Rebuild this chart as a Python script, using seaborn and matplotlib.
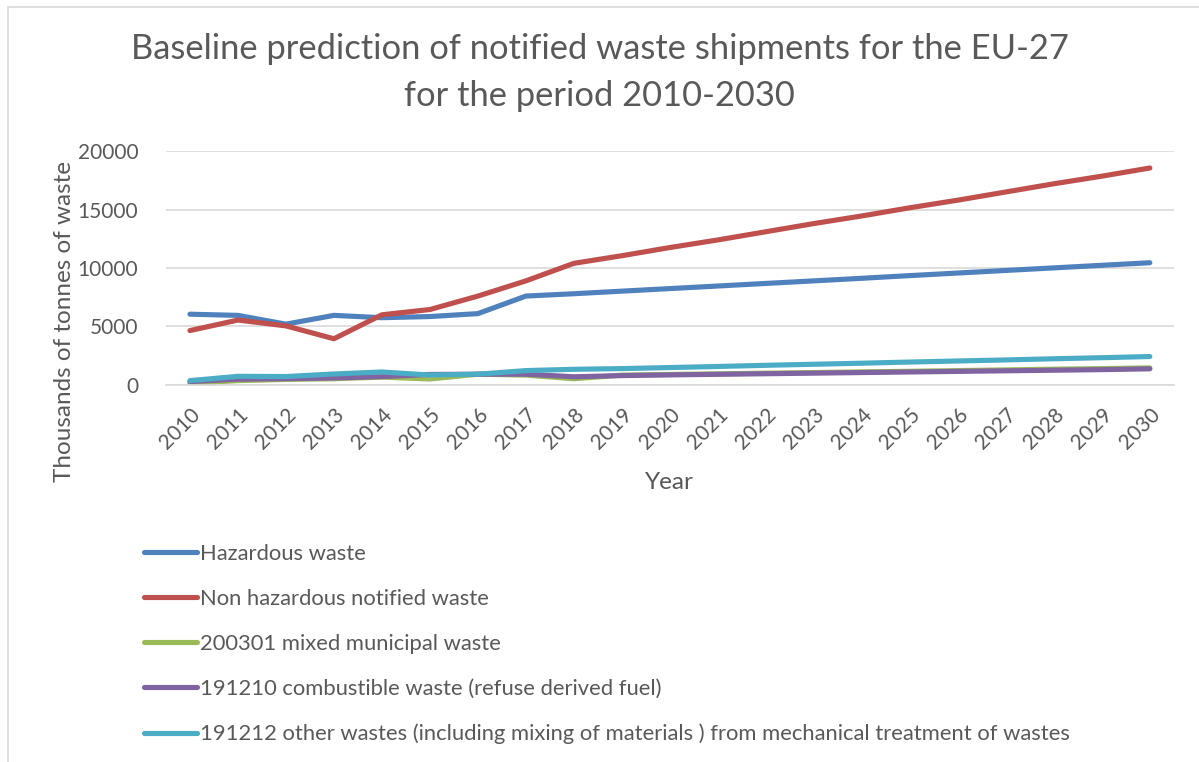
import matplotlib.pyplot as plt
import pandas as pd
import seaborn as sns

years = list(range(2010, 2031))
hazardous = [6050, 5950, 5200, 5950, 5750, 5850, 6100, 7600, 7800, 8020, 8240,
             8460, 8680, 8900, 9120, 9350, 9570, 9790, 10010, 10230, 10450]
non_hazardous = [4650, 5550, 5050, 3950, 6000, 6450, 7600, 8900, 10400, 11050, 11750,
                 12400, 13100, 13800, 14450, 15150, 15800, 16500, 17200, 17850, 18550]
mixed_municipal = [140, 370, 470, 530, 670, 510, 920, 840, 530, 840, 900,
                   950, 1010, 1060, 1120, 1170, 1230, 1290, 1350, 1400, 1460]
combustible = [290, 490, 540, 600, 710, 900, 920, 920, 700, 800, 860,
               910, 960, 1010, 1060, 1110, 1160, 1210, 1260, 1310, 1380]
other_wastes = [370, 740, 720, 940, 1110, 850, 920, 1230, 1340, 1400, 1490,
                1580, 1680, 1770, 1860, 1960, 2050, 2140, 2240, 2330, 2430]

series_names = [
    "Hazardous waste",
    "Non hazardous notified waste",
    "200301 mixed municipal waste",
    "191210 combustible waste (refuse derived fuel)",
    "191212 other wastes (including mixing of materials ) from mechanical treatment of wastes",
]
series_values = [hazardous, non_hazardous, mixed_municipal, combustible, other_wastes]
colors = ["#4F81BD", "#C0504D", "#9BBB59", "#8064A2", "#4BACC6"]

sns.set_theme(style="white")
plt.rcParams["font.family"] = ["Lato", "DejaVu Sans"]
text_color = "#595959"

rows = []
for name, vals in zip(series_names, series_values):
    for i, v in enumerate(vals):
        rows.append({"pos": i, "series": name, "value": v})
df = pd.DataFrame(rows)

fig = plt.figure(figsize=(11.99, 7.62), dpi=100)
ax = fig.add_axes([0.1384, 0.4948, 0.8406, 0.3070])

sns.lineplot(data=df, x="pos", y="value", hue="series", hue_order=series_names,
             palette=colors, linewidth=3.7, ax=ax, legend=False,
             solid_capstyle="round", solid_joinstyle="round")

ax.set_xlim(-0.5, len(years) - 0.5)
ax.set_ylim(0, 20000)
ax.set_yticks(range(0, 20001, 5000))
ax.set_xticks(range(len(years)))
ax.set_xticklabels([str(y) for y in years], rotation=45, ha="right",
                   rotation_mode="anchor", fontsize=15, color=text_color)
ax.tick_params(axis="y", labelsize=15, labelcolor=text_color, length=0, pad=20)
ax.tick_params(axis="x", length=0, pad=14)
ax.grid(axis="y", color="#D9D9D9", linewidth=1.2)
for s in ["top", "right", "left"]:
    ax.spines[s].set_visible(False)
ax.spines["bottom"].set_color("#D9D9D9")
ax.spines["bottom"].set_linewidth(1.2)

ax.set_xlabel("Year", fontsize=17.5, color=text_color)
ax.xaxis.set_label_coords(0.5, -0.37)
ax.set_ylabel("Thousands of tonnes of waste", fontsize=17.5, color=text_color)
ax.yaxis.set_label_coords(-0.09, 0.27)

fig.suptitle("Baseline prediction of notified waste shipments for the EU-27\nfor the period 2010-2030",
             fontsize=24.8, color=text_color, y=0.957, x=0.5, linespacing=1.6)

handles = ax.get_lines()[:len(series_names)]
fig.legend(handles, series_names, loc="upper left", bbox_to_anchor=(0.113, 0.298),
           frameon=False, fontsize=15.8, labelcolor=text_color, handlelength=2.4,
           handletextpad=0.15, labelspacing=1.14, borderaxespad=0)

# chart border like the Excel frame
fig.add_artist(plt.Rectangle((8 / 1199, -0.01), 1.2, 1 - 7 / 762 + 0.01,
                             transform=fig.transFigure, fill=False,
                             edgecolor="#D9D9D9", linewidth=1.2))

fig.savefig("out.png", dpi=100)
